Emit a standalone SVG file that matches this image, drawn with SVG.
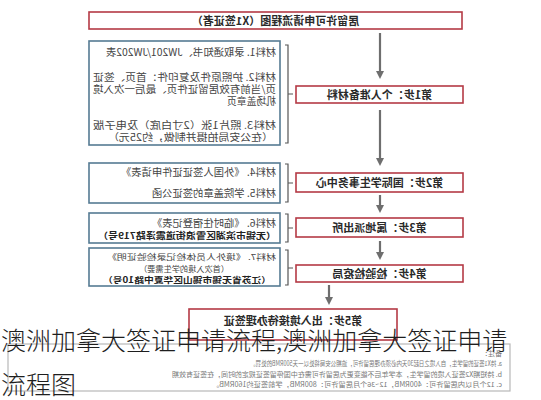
<svg xmlns="http://www.w3.org/2000/svg" width="541" height="400" viewBox="0 0 541 400">
<defs>
<marker id="ah" markerUnits="userSpaceOnUse" markerWidth="8" markerHeight="8" viewBox="0 0 10 10" refX="4" refY="5" orient="auto"><path d="M0,0 L10,5 L0,10 z" fill="#6e6e6e"/></marker>
</defs>
<style>
.step rect{fill:#fff;stroke:#b53a45;stroke-width:1.6}
.mat rect{fill:#fff;stroke:#557b93;stroke-width:1.6}
.note rect{fill:#fff;stroke:#b8b8b8;stroke-width:1.2}
.brace{fill:none;stroke:#555;stroke-width:1.2}
.arrow{stroke:#6e6e6e;stroke-width:2.2;fill:none;marker-end:url(#ah)}
text{font-family:"Noto Sans CJK SC","Noto Sans",sans-serif}
.st{font-size:11px;font-weight:700;text-anchor:middle;fill:#2a2a2a}
.m{font-size:10.3px;fill:#444}
.mt{font-size:9.8px;fill:#444}
.ms{font-size:8.2px;fill:#444}
.msb{font-size:8.2px;fill:#222;font-weight:700}
.mcb{font-size:8.8px;fill:#222;font-weight:700}
.n{font-size:7px;fill:#777}
.cap{font-size:25px;font-weight:300;fill:#1e1e1e}
</style>
<rect width="541" height="400" fill="#fff"/>
<g transform="matrix(-1 0 0 1 541 0)">
 <g id="title" class="step"><rect x="79" y="12" width="373" height="17"/><text class="st" x="265.5" y="25">居留许可申请流程图（X1签证者）</text></g>
 <g id="step1" class="step"><rect x="78" y="86" width="167" height="17"/><text class="st" x="161.5" y="99">第1步：个人准备材料</text></g>
 <g id="step2" class="step"><rect x="78" y="173" width="167" height="19"/><text class="st" x="161.5" y="187">第2步：国际学生事务中心</text></g>
 <g id="step3" class="step"><rect x="78" y="218" width="167" height="19"/><text class="st" x="161.5" y="232">第3步：属地派出所</text></g>
 <g id="step4" class="step"><rect x="78" y="265" width="167" height="17"/><text class="st" x="161.5" y="278">第4步：检验检疫局</text></g>
 <g id="step5" class="step"><rect x="144" y="309" width="208" height="31"/><text class="st" x="248" y="325">第5步：出入境接待办理签证</text></g>

 <g id="matA" class="mat"><rect x="261" y="41" width="191" height="104"/>
  <text class="m" x="265" y="56">材料1. 录取通知书、JW201/JW202表</text>
  <text class="mt" x="265" y="81" textLength="183" lengthAdjust="spacingAndGlyphs">材料2. 护照原件及复印件：首页、签证</text>
  <text class="mt" x="265" y="93" textLength="183" lengthAdjust="spacingAndGlyphs">页/当前有效居留证件页、最后一次入境</text>
  <text class="mt" x="265" y="105">机场盖章页</text>
  <text class="mt" x="265" y="129" textLength="183" lengthAdjust="spacingAndGlyphs">材料3. 照片1张（2寸白底）及电子版</text>
  <text class="mt" x="268" y="141" textLength="165" lengthAdjust="spacingAndGlyphs">（在公安局拍摄并制做，约25元）</text>
 </g>
 <g id="matB" class="mat"><rect x="261" y="163" width="191" height="40"/>
  <text class="m" x="265" y="176">材料4. 《外国人签证证件申请表》</text>
  <text class="m" x="265" y="197">材料5. 学院盖章的签证公函</text>
 </g>
 <g id="matC" class="mat"><rect x="261" y="213" width="191" height="30"/>
  <text class="m" x="265" y="227">材料6. 《临时住宿登记表》</text>
  <text class="mcb" x="265" y="239" textLength="178" lengthAdjust="spacingAndGlyphs">（无锡市滨湖区雪浪街道震泽路719号）</text>
 </g>
 <g id="matD" class="mat"><rect x="261" y="248" width="191" height="38"/>
  <text class="ms" x="265" y="259.5" textLength="169" lengthAdjust="spacingAndGlyphs">材料7. 《境外人员体检记录检验证明》</text>
  <text class="ms" x="357" y="271.5" text-anchor="middle">（首次入境的学生需要）</text>
  <text class="msb" x="270" y="283.3" textLength="168" lengthAdjust="spacingAndGlyphs">（江苏省无锡市锡山区华夏中路10号）</text>
 </g>

 <g id="notes" class="note"><rect x="31" y="344" width="502" height="47"/>
  <text class="n" x="39" y="356">备注：</text>
  <text class="n" x="39" y="366" textLength="252" lengthAdjust="spacingAndGlyphs">a. 持X1签证的留学生，自入境之日起30天内必须办理居留许可，逾期公安局将处以一天500RMB的处罚。</text>
  <text class="n" x="39" y="377" textLength="330" lengthAdjust="spacingAndGlyphs">b. 持短期X2签证入境的留学生，本学年后不能变更为居留许可需在中国停留签证规定的时间，在签证有效期</text>
  <text class="n" x="39" y="387" textLength="290" lengthAdjust="spacingAndGlyphs">c. 12个月以内居留许可：400RMB，12~36个月居留许可：800RMB，学前签证约160RMB。</text>
 </g>

 <g id="connectors">
  <path class="brace" d="M256,45 H253 V143 H256 M253,94 H248"/>
  <path class="brace" d="M256,164 H253 V202 H256 M253,183 H248"/>
  <path class="brace" d="M256,214 H253 V242 H256 M253,228 H248"/>
  <path class="brace" d="M256,250 H253 V285 H256 M253,268 H248"/>
  <line class="arrow" x1="161" y1="33" x2="161" y2="74.2"/>
  <line class="arrow" x1="161" y1="110" x2="161" y2="161.2"/>
  <line class="arrow" x1="161" y1="195" x2="161" y2="208.2"/>
  <line class="arrow" x1="161" y1="241" x2="161" y2="255.2"/>
  <line class="arrow" x1="212" y1="285" x2="212" y2="300.2"/>
 </g>
</g>
<g id="caption">
 <text class="cap" x="1" y="350">澳洲加拿大签证申请流程,澳洲加拿大签证申请</text>
 <text class="cap" x="1" y="394">流程图</text>
</g>
</svg>
